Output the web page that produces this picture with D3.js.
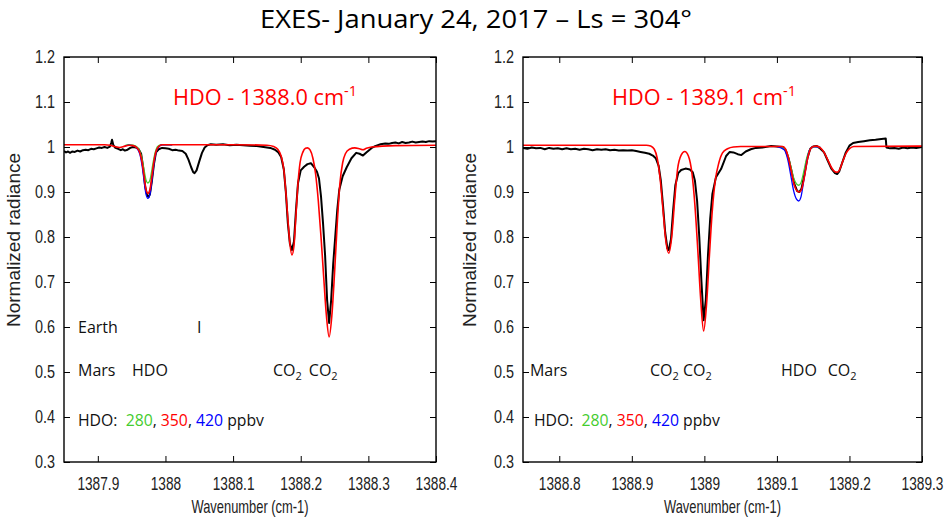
<!DOCTYPE html>
<html>
<head>
<meta charset="utf-8">
<script src="https://cdn.jsdelivr.net/npm/d3@7"></script>
<style>
html,body{margin:0;padding:0;background:#fff;}
svg{display:block;}
</style>
</head>
<body>
<svg id="chart" width="945" height="526"></svg>
<script>
// ---------------- DATA ----------------
const chartTitle = "EXES- January 24, 2017 \u2013 Ls = 304\u00b0";
const yTicks = [0.3, 0.4, 0.5, 0.6, 0.7, 0.8, 0.9, 1.0, 1.1, 1.2];
const leftXTicks = [1387.9, 1388.0, 1388.1, 1388.2, 1388.3, 1388.4];
const rightXTicks = [1388.8, 1388.9, 1389.0, 1389.1, 1389.2, 1389.3];
const leftXDomain = [1387.85, 1388.4];
const rightXDomain = [1388.75, 1389.3];
const hdoLegendValues = ["280", "350", "420"];

// Observed EXES spectrum, left window [wavenumber, normalized radiance]
const leftObserved = [
[1387.850,0.991],[1387.853,0.988],[1387.856,0.990],[1387.859,0.987],[1387.862,0.990],[1387.866,0.989],
[1387.870,0.992],[1387.874,0.990],[1387.878,0.993],[1387.882,0.994],[1387.886,0.993],[1387.890,0.996],
[1387.894,0.995],[1387.898,0.997],[1387.902,0.999],[1387.906,0.998],[1387.910,1.000],[1387.914,0.998],
[1387.918,1.001],[1387.920,1.010],[1387.921,1.016],[1387.923,1.004],[1387.926,0.998],[1387.930,0.996],
[1387.934,0.993],[1387.937,0.995],[1387.940,0.992],[1387.944,0.994],[1387.948,0.998],[1387.952,1.000],
[1387.956,0.999],[1387.960,0.996],[1387.964,0.985],[1387.967,0.955],[1387.970,0.912],[1387.973,0.892],
[1387.975,0.889],[1387.977,0.895],[1387.980,0.925],[1387.983,0.962],[1387.986,0.988],[1387.990,0.995],
[1387.995,0.998],[1388.000,0.997],[1388.005,0.996],[1388.010,0.993],[1388.015,0.994],[1388.020,0.992],
[1388.025,0.991],[1388.030,0.985],[1388.034,0.972],[1388.038,0.955],[1388.041,0.944],[1388.043,0.942],
[1388.046,0.948],[1388.050,0.968],[1388.054,0.987],[1388.058,0.999],[1388.062,1.004],[1388.067,1.006],
[1388.075,1.005],[1388.085,1.006],[1388.095,1.004],[1388.105,1.005],[1388.115,1.004],[1388.125,1.003],
[1388.135,1.002],[1388.145,1.000],[1388.155,0.998],[1388.162,0.994],[1388.167,0.988],[1388.171,0.978],
[1388.175,0.950],[1388.178,0.900],[1388.181,0.830],[1388.184,0.785],[1388.187,0.771],[1388.190,0.790],
[1388.193,0.860],[1388.196,0.920],[1388.200,0.948],[1388.205,0.956],[1388.210,0.962],[1388.215,0.964],
[1388.220,0.955],[1388.224,0.945],[1388.227,0.930],[1388.230,0.890],[1388.233,0.830],[1388.236,0.760],
[1388.239,0.660],[1388.242,0.609],[1388.245,0.660],[1388.248,0.740],[1388.251,0.800],[1388.254,0.860],
[1388.257,0.905],[1388.262,0.935],[1388.268,0.955],[1388.275,0.975],[1388.282,0.987],[1388.287,0.985],
[1388.292,0.981],[1388.297,0.988],[1388.305,0.998],[1388.310,1.002],[1388.318,1.006],[1388.325,1.008],
[1388.330,1.007],[1388.335,1.009],[1388.340,1.010],[1388.345,1.008],[1388.350,1.011],[1388.355,1.009],
[1388.360,1.010],[1388.365,1.012],[1388.370,1.010],[1388.375,1.011],[1388.380,1.012],[1388.385,1.011],
[1388.390,1.013],[1388.395,1.012],[1388.400,1.013]
];
// Model, HDO = 350 ppbv (left window)
const leftModel350 = [
[1387.850,1.005],[1387.910,1.005],[1387.918,1.004],[1387.925,1.001],[1387.932,0.999],[1387.940,1.002],
[1387.946,1.004],[1387.952,1.003],[1387.958,0.998],[1387.962,0.988],[1387.965,0.970],[1387.968,0.940],
[1387.971,0.908],[1387.974,0.897],[1387.977,0.905],[1387.980,0.935],[1387.983,0.968],[1387.986,0.990],
[1387.990,1.001],[1387.995,1.005],[1388.100,1.005],[1388.150,1.004],[1388.160,1.001],[1388.166,0.995],
[1388.171,0.980],[1388.175,0.950],[1388.178,0.900],[1388.181,0.840],[1388.184,0.785],[1388.187,0.760],
[1388.190,0.780],[1388.193,0.850],[1388.196,0.920],[1388.199,0.965],[1388.203,0.988],[1388.207,0.997],
[1388.210,0.998],[1388.214,0.993],[1388.218,0.975],[1388.222,0.940],[1388.226,0.880],[1388.230,0.800],
[1388.234,0.710],[1388.238,0.625],[1388.242,0.578],[1388.246,0.625],[1388.250,0.720],[1388.254,0.830],
[1388.258,0.920],[1388.262,0.965],[1388.266,0.985],[1388.272,0.995],[1388.280,0.998],[1388.287,0.996],
[1388.292,0.994],[1388.297,0.997],[1388.305,1.000],[1388.340,1.003],[1388.400,1.004]
];
// Model, HDO = 280 ppbv (left window, HDO line region)
const leftModel280 = [
[1387.940,1.003],[1387.946,1.005],[1387.952,1.004],[1387.958,1.000],[1387.962,0.991],[1387.965,0.976],
[1387.968,0.952],[1387.971,0.928],[1387.974,0.920],[1387.977,0.926],[1387.980,0.950],[1387.983,0.976],
[1387.986,0.994],[1387.990,1.003],[1387.995,1.005],[1388.010,1.005]
];
// Model, HDO = 420 ppbv (left window, HDO line region)
const leftModel420 = [
[1387.940,1.002],[1387.946,1.004],[1387.952,1.003],[1387.958,0.997],[1387.962,0.985],[1387.965,0.963],
[1387.968,0.930],[1387.971,0.897],[1387.974,0.886],[1387.977,0.894],[1387.980,0.926],[1387.983,0.962],
[1387.986,0.988],[1387.990,1.000],[1387.995,1.005],[1388.010,1.005]
];

// Observed EXES spectrum, right window
const rightObserved = [
[1388.750,0.998],[1388.756,0.996],[1388.762,0.999],[1388.768,0.997],[1388.774,0.998],[1388.780,0.995],
[1388.786,0.998],[1388.792,0.996],[1388.798,0.997],[1388.804,0.995],[1388.810,0.997],[1388.816,0.995],
[1388.822,0.996],[1388.828,0.994],[1388.834,0.996],[1388.840,0.995],[1388.846,0.993],[1388.852,0.995],
[1388.858,0.994],[1388.864,0.995],[1388.870,0.993],[1388.876,0.994],[1388.882,0.992],[1388.888,0.993],
[1388.894,0.992],[1388.900,0.993],[1388.906,0.991],[1388.912,0.989],[1388.918,0.987],[1388.924,0.985],
[1388.929,0.981],[1388.933,0.975],[1388.937,0.958],[1388.940,0.925],[1388.943,0.870],[1388.946,0.810],
[1388.949,0.775],[1388.951,0.771],[1388.954,0.795],[1388.957,0.860],[1388.960,0.915],[1388.964,0.942],
[1388.968,0.949],[1388.974,0.952],[1388.980,0.950],[1388.984,0.944],[1388.987,0.925],[1388.990,0.880],
[1388.993,0.800],[1388.996,0.700],[1388.999,0.615],[1389.002,0.660],[1389.005,0.760],[1389.008,0.840],
[1389.011,0.895],[1389.016,0.933],[1389.023,0.951],[1389.030,0.980],[1389.035,0.989],[1389.040,0.988],
[1389.046,0.984],[1389.051,0.982],[1389.057,0.990],[1389.064,0.995],[1389.071,0.998],[1389.080,0.999],
[1389.092,1.002],[1389.100,1.001],[1389.108,1.000],[1389.112,0.993],[1389.116,0.975],[1389.120,0.948],
[1389.124,0.918],[1389.128,0.902],[1389.131,0.900],[1389.134,0.908],[1389.138,0.940],[1389.142,0.975],
[1389.146,0.996],[1389.150,1.001],[1389.155,1.002],[1389.160,0.996],[1389.165,0.988],[1389.170,0.970],
[1389.175,0.952],[1389.180,0.942],[1389.183,0.940],[1389.186,0.946],[1389.190,0.965],[1389.195,0.988],
[1389.200,1.003],[1389.205,1.009],[1389.212,1.011],[1389.220,1.013],[1389.228,1.015],[1389.236,1.016],
[1389.244,1.018],[1389.250,1.019],[1389.251,0.999],[1389.256,0.997],[1389.262,0.998],[1389.268,0.996],
[1389.274,0.999],[1389.280,0.997],[1389.286,0.999],[1389.292,0.998],[1389.300,1.000]
];
// Model, HDO = 350 ppbv (right window)
const rightModel350 = [
[1388.750,1.004],[1388.920,1.004],[1388.926,1.002],[1388.931,0.995],[1388.935,0.975],[1388.939,0.930],
[1388.943,0.860],[1388.947,0.790],[1388.951,0.764],[1388.955,0.800],[1388.959,0.880],[1388.963,0.950],
[1388.968,0.982],[1388.973,0.990],[1388.978,0.980],[1388.983,0.940],[1388.987,0.870],[1388.991,0.770],
[1388.995,0.660],[1388.999,0.591],[1389.003,0.650],[1389.007,0.760],[1389.011,0.860],[1389.015,0.925],
[1389.020,0.965],[1389.025,0.987],[1389.032,0.996],[1389.040,1.000],[1389.050,1.001],[1389.108,1.001],
[1389.112,0.995],[1389.116,0.975],[1389.120,0.945],[1389.124,0.915],[1389.128,0.902],[1389.131,0.900],
[1389.134,0.906],[1389.138,0.935],[1389.142,0.972],[1389.146,0.995],[1389.150,1.001],[1389.155,1.002],
[1389.160,0.998],[1389.165,0.988],[1389.170,0.972],[1389.175,0.955],[1389.180,0.945],[1389.183,0.944],
[1389.186,0.948],[1389.190,0.965],[1389.195,0.985],[1389.200,0.996],[1389.206,1.001],[1389.300,1.002]
];
// Model, HDO = 280 ppbv (right window, HDO line region)
const rightModel280 = [
[1389.100,1.001],[1389.110,0.997],[1389.115,0.982],[1389.119,0.958],[1389.123,0.932],[1389.127,0.918],
[1389.130,0.915],[1389.133,0.920],[1389.137,0.945],[1389.141,0.975],[1389.145,0.994],[1389.150,1.001],
[1389.160,0.999]
];
// Model, HDO = 420 ppbv (right window, HDO line region)
const rightModel420 = [
[1389.100,1.001],[1389.110,0.994],[1389.115,0.972],[1389.119,0.938],[1389.123,0.903],[1389.127,0.884],
[1389.130,0.880],[1389.133,0.888],[1389.137,0.925],[1389.141,0.966],[1389.145,0.993],[1389.150,1.001],
[1389.160,0.999]
];

// Line labels: [wavenumber where the label starts, text, subscript]
const leftEarthLabels = [[1387.8707, "Earth", ""], [1388.0466, "I", ""]];
const leftMarsLabels = [[1387.8707, "Mars", ""], [1387.9505, "HDO", ""], [1388.159, "CO", "2"], [1388.212, "CO", "2"]];
const rightMarsLabels = [[1388.7596, "Mars", ""], [1388.925, "CO", "2"], [1388.9705, "CO", "2"], [1389.1056, "HDO", ""], [1389.170, "CO", "2"]];
const leftLegendStart = 1387.8707;
const rightLegendStart = 1388.7650;
const leftSubtitle = ["HDO - 1388.0 cm", "-1"];
const rightSubtitle = ["HDO - 1389.1 cm", "-1"];

// ---------------- DRAWING ----------------
const svg = d3.select("#chart");
const SANS = "'Open Sans','Noto Sans','DejaVu Sans',sans-serif";
const NARROW = "'Liberation Sans Narrow','Liberation Sans',Arial,sans-serif";
const COL = {obs:"#000000", m350:"#ff0000", m280:"#44cc2e", m420:"#0000ff"};

svg.append("text")
  .attr("x", 476).attr("y", 28)
  .attr("text-anchor", "middle")
  .style("font-family", SANS).style("font-size", "25px").attr("fill", "#000")
  .attr("textLength", 432).attr("lengthAdjust", "spacingAndGlyphs")
  .text(chartTitle);

const y = d3.scaleLinear().domain([0.3, 1.2]).range([462, 57]);

function squeeze(sel, f) {
  sel.each(function() {
    const w = this.getComputedTextLength();
    d3.select(this).attr("textLength", w * f).attr("lengthAdjust", "spacingAndGlyphs");
  });
}

function panel(cfg) {
  const x = d3.scaleLinear().domain(cfg.domain).range([cfg.x0, cfg.x1]);
  const g = svg.append("g");
  const clipId = "clip" + cfg.id;
  svg.append("clipPath").attr("id", clipId).append("rect")
    .attr("x", cfg.x0).attr("y", 57).attr("width", cfg.x1 - cfg.x0).attr("height", 405);

  // axes with inward ticks
  const ax = g.append("g").attr("transform", "translate(0,462)")
    .call(d3.axisBottom(x).tickValues(cfg.ticks).tickSize(-6).tickPadding(15).tickFormat(d => String(+d.toFixed(1))));
  const axTop = g.append("g").attr("transform", "translate(0,57)")
    .call(d3.axisTop(x).tickValues(cfg.ticks).tickSize(-6).tickFormat(""));
  const ay = g.append("g").attr("transform", `translate(${cfg.x0},0)`)
    .call(d3.axisLeft(y).tickValues(yTicks).tickSize(-6).tickPadding(9).tickFormat(d => String(+d.toFixed(1))));
  const ayR = g.append("g").attr("transform", `translate(${cfg.x1},0)`)
    .call(d3.axisRight(y).tickValues(yTicks).tickSize(-6).tickFormat(""));
  [ax, axTop, ay, ayR].forEach(a => {
    a.select(".domain").remove();
    a.selectAll("line").attr("stroke", "#000").attr("stroke-width", 1);
    a.selectAll("text").style("font-family", NARROW).style("font-size", "18px").attr("fill", "#222");
  });
  squeeze(ax.selectAll("text"), 0.76);
  squeeze(ay.selectAll("text"), 0.8);

  // lines
  const lineLin = d3.line().x(d => x(d[0])).y(d => y(d[1]));
  const lineSmooth = d3.line().x(d => x(d[0])).y(d => y(d[1])).curve(d3.curveMonotoneX);
  const lg = g.append("g").attr("clip-path", `url(#${clipId})`);
  lg.append("path").datum(cfg.obs).attr("d", lineLin).attr("fill", "none")
    .attr("stroke", COL.obs).attr("stroke-width", 2).attr("stroke-linejoin", "round");
  lg.append("path").datum(cfg.m280).attr("d", lineSmooth).attr("fill", "none")
    .attr("stroke", COL.m280).attr("stroke-width", 1.3);
  lg.append("path").datum(cfg.m420).attr("d", lineSmooth).attr("fill", "none")
    .attr("stroke", COL.m420).attr("stroke-width", 1.3);
  lg.append("path").datum(cfg.m350).attr("d", lineSmooth).attr("fill", "none")
    .attr("stroke", COL.m350).attr("stroke-width", 1.6);

  // frame
  g.append("rect").attr("x", cfg.x0).attr("y", 57).attr("width", cfg.x1 - cfg.x0).attr("height", 405)
    .attr("fill", "none").attr("stroke", "#000").attr("stroke-width", 1.4);

  // axis titles
  g.append("text").attr("x", (cfg.x0 + cfg.x1) / 2).attr("y", 513).attr("text-anchor", "middle")
    .style("font-family", NARROW).style("font-size", "19px").attr("fill", "#222")
    .attr("textLength", 117).attr("lengthAdjust", "spacingAndGlyphs")
    .text("Wavenumber (cm-1)");
  g.append("text").attr("transform", `translate(${cfg.ylabX},240) rotate(-90)`).attr("text-anchor", "middle")
    .style("font-family", "'Liberation Sans',Arial,sans-serif").style("font-size", "18px").attr("fill", "#222")
    .attr("textLength", 174).attr("lengthAdjust", "spacingAndGlyphs")
    .text("Normalized radiance");

  // red subtitle
  const st = g.append("text").attr("x", cfg.subX).attr("y", 105)
    .style("font-family", SANS).style("font-size", "21px").attr("fill", "#ff0000")
    .attr("textLength", 184).attr("lengthAdjust", "spacingAndGlyphs");
  st.append("tspan").text(cfg.subtitle[0]);
  st.append("tspan").attr("dy", -9).style("font-size", "14px").text(cfg.subtitle[1]);

  // line annotations
  function labels(list, baseY) {
    list.forEach(([wn, txt, sub]) => {
      const t = g.append("text").attr("x", x(wn)).attr("y", baseY)
        .style("font-family", SANS).style("font-size", "16px").attr("fill", "#111");
      t.append("tspan").text(txt);
      if (sub) t.append("tspan").attr("dy", 4).style("font-size", "11px").text(sub);
    });
  }
  if (cfg.earth) labels(cfg.earth, 333);
  labels(cfg.mars, 376);

  // HDO legend
  const lt = g.append("text").attr("x", x(cfg.legendStart)).attr("y", 426)
    .style("font-family", SANS).style("font-size", "16.5px").attr("fill", "#111")
    .attr("textLength", 186).attr("lengthAdjust", "spacingAndGlyphs");
  lt.append("tspan").text("HDO:\u00a0 ");
  lt.append("tspan").attr("fill", COL.m280).text(hdoLegendValues[0]);
  lt.append("tspan").text(", ");
  lt.append("tspan").attr("fill", COL.m350).text(hdoLegendValues[1]);
  lt.append("tspan").text(", ");
  lt.append("tspan").attr("fill", COL.m420).text(hdoLegendValues[2]);
  lt.append("tspan").text(" ppbv");
}

panel({id: "L", domain: leftXDomain, x0: 64, x1: 436, ticks: leftXTicks, legendStart: leftLegendStart,
  obs: leftObserved, m350: leftModel350, m280: leftModel280, m420: leftModel420,
  earth: leftEarthLabels, mars: leftMarsLabels, subtitle: leftSubtitle, subX: 173, ylabX: 20});
panel({id: "R", domain: rightXDomain, x0: 523, x1: 922, ticks: rightXTicks, legendStart: rightLegendStart,
  obs: rightObserved, m350: rightModel350, m280: rightModel280, m420: rightModel420,
  earth: null, mars: rightMarsLabels, subtitle: rightSubtitle, subX: 612, ylabX: 476});
</script>
</body>
</html>
